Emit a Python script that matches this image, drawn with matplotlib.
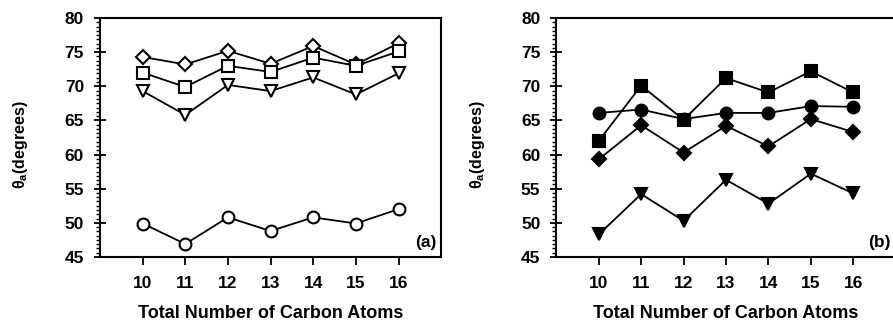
import matplotlib.pyplot as plt
from matplotlib.ticker import MultipleLocator

plt.rcParams['font.family'] = ['Liberation Sans', 'DejaVu Sans']
plt.rcParams['font.weight'] = 'bold'

carbons = [10, 11, 12, 13, 14, 15, 16]

# panel (a), open symbols
a_diamond = [74.3, 73.2, 75.2, 73.3, 75.9, 73.2, 76.3]
a_square = [72.0, 69.9, 73.0, 72.1, 74.2, 73.0, 75.1]
a_triangle = [69.3, 65.8, 70.2, 69.3, 71.3, 68.8, 71.9]
a_circle = [49.9, 46.9, 50.8, 48.8, 50.8, 49.9, 52.0]

# panel (b), filled symbols
b_square = [62.0, 70.1, 65.1, 71.2, 69.1, 72.2, 69.1]
b_circle = [66.1, 66.6, 65.2, 66.1, 66.1, 67.1, 67.0]
b_diamond = [59.3, 64.3, 60.3, 64.2, 61.2, 65.2, 63.3]
b_triangle = [48.3, 54.2, 50.3, 56.3, 52.8, 57.2, 54.3]

fig = plt.figure(figsize=(8.93, 3.22), dpi=100)
ax1 = fig.add_axes([0.112, 0.202, 0.382, 0.742])
ax2 = fig.add_axes([0.623, 0.202, 0.380, 0.742])


def style(ax, tag):
    ax.set_xlim(9, 17)
    ax.set_ylim(45, 80)
    ax.set_xticks(carbons)
    ax.yaxis.set_major_locator(MultipleLocator(5))
    ax.yaxis.set_minor_locator(MultipleLocator(0.625))
    ax.tick_params(axis='y', which='major', direction='inout', length=9, width=1.3, labelsize=12.5, pad=7)
    ax.tick_params(axis='y', which='minor', direction='out', length=3, width=1)
    ax.tick_params(axis='x', which='major', direction='out', length=6, width=1.3, labelsize=12.5, pad=8)
    for s in ax.spines.values():
        s.set_linewidth(1.5)
    ax.set_xlabel('Total Number of Carbon Atoms', fontsize=13, fontweight='bold', labelpad=10)
    ax.set_ylabel(r'$\mathregular{\theta_a}$(degrees)', fontsize=11.5, fontweight='bold')
    ax.yaxis.set_label_coords(-0.205, 0.47)
    ax.text(0.985, 0.03, tag, transform=ax.transAxes, ha='right', va='bottom',
            fontsize=12.5, fontweight='bold')


kw = dict(color='black', linewidth=1.3, markersize=8.5, markeredgewidth=1.5)
dkw = dict(kw, markersize=7.5)
ax1.plot(carbons, a_diamond, marker='D', markerfacecolor='white', **dkw)
ax1.plot(carbons, a_square, marker='s', markerfacecolor='white', **kw)
ax1.plot(carbons, a_triangle, marker='v', markerfacecolor='white', **kw)
ax1.plot(carbons, a_circle, marker='o', markerfacecolor='white', **kw)
style(ax1, '(a)')

ax2.plot(carbons, b_square, marker='s', markerfacecolor='black', **kw)
ax2.plot(carbons, b_circle, marker='o', markerfacecolor='black', **kw)
ax2.plot(carbons, b_diamond, marker='D', markerfacecolor='black', **dkw)
ax2.plot(carbons, b_triangle, marker='v', markerfacecolor='black', **kw)
style(ax2, '(b)')

fig.savefig('out.png', dpi=100)
